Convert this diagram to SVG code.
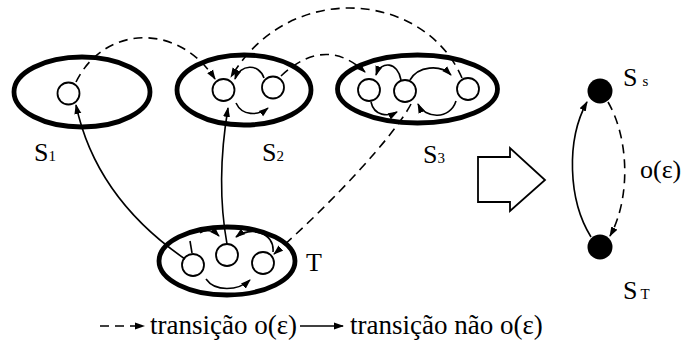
<svg xmlns="http://www.w3.org/2000/svg" width="683" height="359" viewBox="0 0 683 359">
  <style>
    .macro { fill: none; stroke: #000; stroke-width: 4.8; }
    .st { fill: #fff; stroke: #000; stroke-width: 1.8; }
    .agg { fill: #000; }
    .solid { fill: none; stroke: #000; stroke-width: 1.6; }
    .dash { fill: none; stroke: #000; stroke-width: 1.6; stroke-dasharray: 9 6; }
    .arr { marker-end: url(#head); }
    .lbl { font-family: "Liberation Serif", "Times New Roman", serif; font-size: 26px; fill: #000; }
    .sub { font-size: 15px; }
    .leg { font-family: "Liberation Serif", "Times New Roman", serif; font-size: 27px; fill: #000; }
  </style>
  <defs>
    <marker id="head" markerUnits="userSpaceOnUse" markerWidth="10" markerHeight="8" refX="9" refY="4" orient="auto">
      <path d="M0,0.5 L10,4 L0,7.5 Z" fill="#000"/>
    </marker>
  </defs>

  <rect width="683" height="359" fill="#fff"/>

  <!-- macro-state S1 -->
  <g id="S1">
    <ellipse class="macro" cx="82" cy="92" rx="68" ry="35"/>
    <circle class="st" cx="68.5" cy="93.5" r="11"/>
    <text class="lbl" x="34" y="161">S<tspan class="sub">1</tspan></text>
  </g>

  <!-- macro-state S2 -->
  <g id="S2">
    <ellipse class="macro" cx="244" cy="90" rx="67" ry="35"/>
    <circle class="st" cx="223.5" cy="90" r="11"/>
    <circle class="st" cx="273" cy="87.5" r="11"/>
    <path class="solid arr" d="M264,78 C259,63 240,64 235,79"/>
    <path class="solid arr" d="M236,103 C242,116 258,116 268,108"/>
    <text class="lbl" x="262" y="161">S<tspan class="sub">2</tspan></text>
  </g>

  <!-- macro-state S3 -->
  <g id="S3">
    <ellipse class="macro" cx="417.5" cy="89" rx="80" ry="34"/>
    <circle class="st" cx="369" cy="90" r="11"/>
    <circle class="st" cx="405" cy="91" r="11"/>
    <circle class="st" cx="468" cy="89" r="11"/>
    <path class="solid arr" d="M401,80 C398,62 381,60 376,75"/>
    <path class="solid arr" d="M410,80 C418,66 440,64 451,75"/>
    <path class="solid arr" d="M371,102 C374,116 388,117 397,112"/>
    <path class="solid arr" d="M456,101 C450,120 425,119 418,104"/>
    <text class="lbl" x="423" y="163">S<tspan class="sub">3</tspan></text>
  </g>

  <!-- macro-state T -->
  <g id="T">
    <ellipse class="macro" cx="227" cy="261" rx="68" ry="34"/>
    <circle class="st" cx="193" cy="265" r="11"/>
    <circle class="st" cx="227" cy="255" r="11"/>
    <circle class="st" cx="263" cy="263" r="11"/>
    <line class="solid" x1="192" y1="253" x2="190" y2="241"/>
    <path class="solid arr" d="M200,233 C205,229 213,230 219,236"/>
    <path class="solid arr" d="M273,252 C275,232 250,226 236,237"/>
    <path class="solid arr" d="M206,279 C215,292 238,291 250,280"/>
    <text class="lbl" x="306" y="271">T</text>
  </g>

  <!-- aggregated chain -->
  <g id="Ss">
    <circle class="agg" cx="600" cy="91" r="12.5"/>
    <text class="lbl" x="623" y="86">S<tspan class="sub" dx="5" font-size="13">s</tspan></text>
  </g>
  <g id="ST">
    <circle class="agg" cx="600" cy="247" r="12.5"/>
    <text class="lbl" x="623" y="299">S<tspan class="sub" dx="3">T</tspan></text>
  </g>

  <!-- block arrow between the two views -->
  <g id="reduce">
    <polygon points="478,157 510,157 510,148 545,180 510,211 510,202 478,202" fill="#fff" stroke="#000" stroke-width="1.8"/>
  </g>

  <!-- transitions -->
  <g id="connectors">
    <path class="dash arr" d="M76,82 C104,25 178,22 215,79"/>
    <path class="dash arr" d="M281,76 Q325,35 365,72"/>
    <path class="dash arr" d="M462,78 C425,-8 290,-22 231,77"/>
    <path class="dash arr" d="M411,104 C395,135 330,205 274,254"/>
    <path class="solid arr" d="M185,259 C140,228 92,180 76,105"/>
    <path class="solid arr" d="M227,244 C219,200 221,150 228,108"/>
    <path class="solid arr" d="M591,237 C568,200 566,140 587,102"/>
    <path class="dash arr" d="M608,102 C630,140 630,200 610,236"/>
    <text class="lbl" x="640" y="178">o(ε)</text>
  </g>

  <!-- legend -->
  <g id="legend">
    <path class="dash arr" d="M100,326 L144,326"/>
    <text class="leg" x="150" y="334">transição o(ε)</text>
    <path class="solid arr" d="M300,326 L343,326"/>
    <text class="leg" x="350" y="334">transição não o(ε)</text>
  </g>
</svg>
